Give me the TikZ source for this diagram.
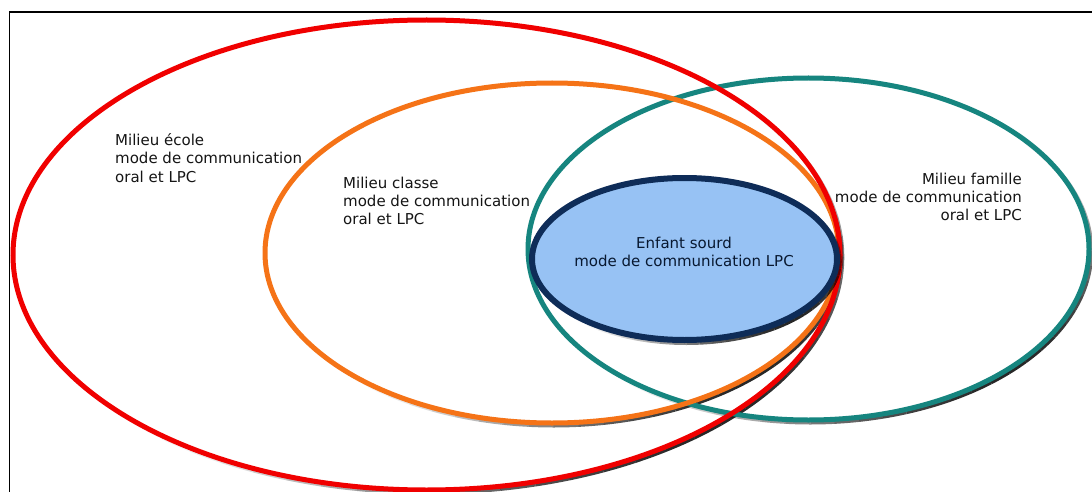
\documentclass[tikz,border=0pt]{standalone}
\usepackage{fontspec}
\setmainfont{DejaVu Sans}
\definecolor{cred}{HTML}{F00000}
\definecolor{corange}{HTML}{F57317}
\definecolor{cteal}{HTML}{16857F}
\definecolor{cnavy}{HTML}{0E2C58}
\definecolor{cfill}{HTML}{97C2F4}
\definecolor{ctext}{HTML}{151515}
\tikzset{
  ring/.style={line width=5pt},
  lbl/.style={inner sep=0pt, text=ctext, font=\fontsize{15}{18}\selectfont},
}
% soft drop shadow on the bottom-right side of an elliptic ring
% #1 cx, #2 cy, #3 rx, #4 ry, #5 line width
\newcommand\ringshadow[5]{%
  \foreach \a in {-135,-130,...,40} {%
    \pgfmathsetmacro\op{0.85*max(0,cos(\a+2.5+45))^1.5}%
    \draw[line width=#5, black, opacity=\op]
      ($(#1+1.8,#2+2)+(\a:#3 and #4)$)
      arc[start angle=\a, end angle=\a+5, x radius=#3, y radius=#4];
  }%
}
\usetikzlibrary{calc}
\begin{document}
\begin{tikzpicture}[x=1pt,y=-1pt]
\useasboundingbox (0,0) rectangle (1092,492);
\clip (0,0) rectangle (1092,492);
\fill[white] (0,0) rectangle (1092,492);
\draw[line width=1.8pt, black] (9.5,12) rectangle (1110,510);
% shadows
\ringshadow{808.5}{249}{280.5pt}{171pt}{5pt}
\ringshadow{552}{253}{287pt}{170pt}{5pt}
\ringshadow{426.5}{255}{413.5pt}{235pt}{5pt}
% rings
\draw[ring, cteal] (808.5,249) ellipse [x radius=280.5pt, y radius=171pt];
\draw[ring, corange] (552,253) ellipse [x radius=287pt, y radius=170pt];
\draw[ring, cred] (426.5,255) ellipse [x radius=413.5pt, y radius=235pt];
% child
\ringshadow{684.5}{259}{152.5pt}{81pt}{6pt}
\draw[line width=6pt, cnavy, fill=cfill] (684.5,259) ellipse [x radius=152.5pt, y radius=81pt];
% labels
\node[lbl, anchor=base west, align=left] (ecole) at (115,182) {Milieu école\\mode de communication\\oral et LPC};
\node[lbl, anchor=base west, align=left] (classe) at (343,224) {Milieu classe\\mode de communication\\oral et LPC};
\node[lbl, anchor=base east, align=right] (famille) at (1022,220) {Milieu famille\\mode de communication\\oral et LPC};
\node[lbl, anchor=base, align=center, text=cnavy!55!black] (enfant) at (684,266) {Enfant sourd\\mode de communication LPC};
\end{tikzpicture}
\end{document}
